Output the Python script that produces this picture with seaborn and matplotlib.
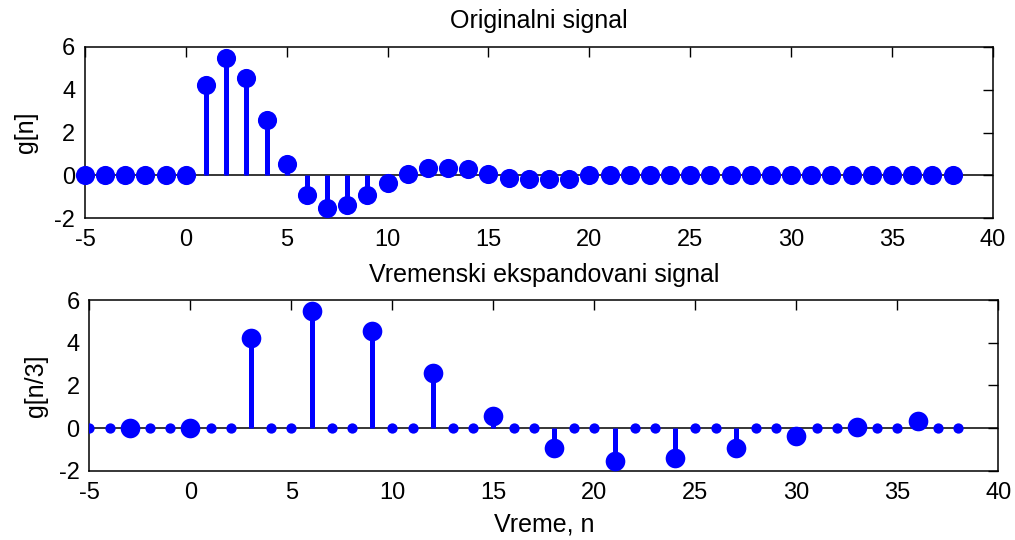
import numpy as np
import matplotlib
matplotlib.use('Agg')
import matplotlib.pyplot as plt
import seaborn as sns

# original signal g[n], n = -5..38
n = np.arange(-5, 39)
g = [0, 0, 0, 0, 0, 0,
     4.2, 5.5, 4.55, 2.6, 0.55, -0.93, -1.52, -1.4, -0.93, -0.37,
     0.05, 0.34, 0.34, 0.3, 0.05, -0.1, -0.15, -0.18, -0.15,
     0, 0, 0, 0, 0, 0, 0, 0, 0, 0, 0, 0, 0, 0, 0, 0, 0, 0, 0]

# time-expanded signal g[n/3]: samples at multiples of 3
n_exp = [-3, 0, 3, 6, 9, 12, 15, 18, 21, 24, 27, 30, 33, 36]
g_exp = [0, 0, 4.2, 5.5, 4.55, 2.6, 0.55, -0.93, -1.52, -1.4, -0.93, -0.37, 0.05, 0.34]
# inserted zeros
n_zero = [-5, -4, -2, -1, 1, 2, 4, 5, 7, 8, 10, 11, 13, 14, 16, 17, 19, 20,
          22, 23, 25, 26, 28, 29, 31, 32, 34, 35, 37, 38]
g_zero = [0] * len(n_zero)

xticks = [-5, 0, 5, 10, 15, 20, 25, 30, 35, 40]
yticks = [-2, 0, 2, 4, 6]

sns.set_style('white')
plt.rcParams['font.family'] = ['Liberation Sans', 'DejaVu Sans']
plt.rcParams['axes.unicode_minus'] = False
plt.rcParams['text.color'] = 'black'
plt.rcParams['axes.labelcolor'] = 'black'

blue = '#0000ff'

fig = plt.figure(figsize=(10.15, 5.4), dpi=100)
ax1 = fig.add_axes([0.0837, 0.596, 0.8945, 0.317])
ax2 = fig.add_axes([0.088, 0.128, 0.8956, 0.3164])


def style_axes(ax):
    ax.set_xlim(-5, 40)
    ax.set_ylim(-2, 6)
    ax.set_xticks(xticks)
    ax.set_yticks(yticks)
    ax.tick_params(direction='in', top=True, right=True, length=7, width=1,
                   labelsize=17, colors='black')
    ax.tick_params(axis='x', pad=8)
    ax.tick_params(axis='y', pad=7)
    for s in ax.spines.values():
        s.set_linewidth(1.1)
        s.set_color('black')
    ax.axhline(0, color='black', lw=1.1, zorder=1)


# top: original signal
ax1.vlines(n, 0, g, color=blue, lw=3.6, zorder=2)
sns.scatterplot(x=n, y=g, ax=ax1, color=blue, s=190, linewidth=0,
                zorder=3, clip_on=False)
style_axes(ax1)
ax1.set_title('Originalni signal', fontsize=18, pad=14)
ax1.set_ylabel('g[n]', fontsize=18, labelpad=12)

# bottom: expanded signal
ax2.vlines(n_exp, 0, g_exp, color=blue, lw=3.6, zorder=2)
sns.scatterplot(x=n_exp, y=g_exp, ax=ax2, color=blue, s=200, linewidth=0, zorder=3)
sns.scatterplot(x=n_zero, y=g_zero, ax=ax2, color=blue, s=55, linewidth=0, zorder=3)
style_axes(ax2)
ax2.set_title('Vremenski ekspandovani signal', fontsize=18, pad=13)
ax2.set_ylabel('g[n/3]', fontsize=18, labelpad=8)
ax2.set_xlabel('Vreme, n', fontsize=18, labelpad=6)

fig.savefig('out.png', dpi=100)
